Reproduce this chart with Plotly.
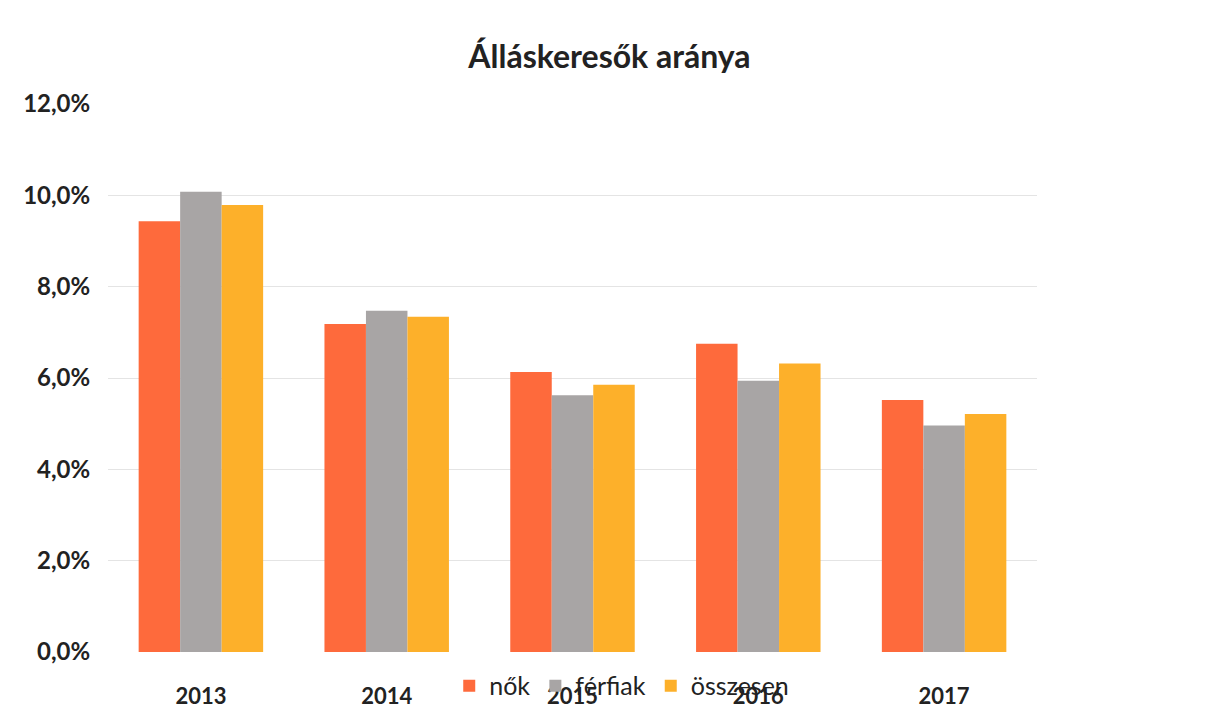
import plotly.graph_objects as go

years = ["2013", "2014", "2015", "2016", "2017"]
nok = [9.43, 7.18, 6.13, 6.75, 5.52]
ferfiak = [10.08, 7.47, 5.62, 5.94, 4.96]
osszesen = [9.79, 7.34, 5.85, 6.32, 5.21]
series_names = ["nők", "férfiak", "összesen"]
colors = ["#FE6A3C", "#A8A5A5", "#FDB02A"]
y_ticks = [0, 2, 4, 6, 8, 10, 12]
y_tick_labels = ["0,0%", "2,0%", "4,0%", "6,0%", "8,0%", "10,0%", "12,0%"]

fig = go.Figure()
for name, vals, col in zip(series_names, [nok, ferfiak, osszesen], colors):
    fig.add_trace(go.Bar(x=years, y=vals, name=name, marker=dict(color=col, line=dict(width=0))))

font_family = "Lato, Open Sans, sans-serif"
fig.update_layout(
    width=1215, height=713,
    paper_bgcolor="white", plot_bgcolor="white",
    margin=dict(l=100, r=186, t=96, b=60),
    bargap=0.33, bargroupgap=0,
    title=dict(text="<b>Álláskeresők aránya</b>", x=0.495, xanchor="center", y=0.932, yanchor="middle",
               font=dict(family=font_family, size=32, color="#222222")),
    font=dict(family=font_family, color="#222222"),
    showlegend=True,
    legend=dict(orientation="h", x=0.553, xanchor="center", y=-0.062, yanchor="middle",
                bgcolor="rgba(0,0,0,0)", font=dict(size=25, family=font_family, color="#222222"),
                itemwidth=30, tracegroupgap=0),
    yaxis=dict(range=[0, 12], tickvals=y_ticks, ticktext=y_tick_labels, showgrid=True,
               gridcolor="#E4E4E4", gridwidth=1, zeroline=False, showline=False, automargin=False,
               tickfont=dict(size=24, family=font_family, color="#222222", weight="bold"), ticklen=12,
               ticks="outside", tickcolor="rgba(0,0,0,0)"),
    xaxis=dict(showline=False, ticks="outside", ticklen=25, tickcolor="rgba(0,0,0,0)", automargin=False,
               tickfont=dict(size=22, family=font_family, color="#222222", weight="bold")),
)
fig.write_html("out.html")
